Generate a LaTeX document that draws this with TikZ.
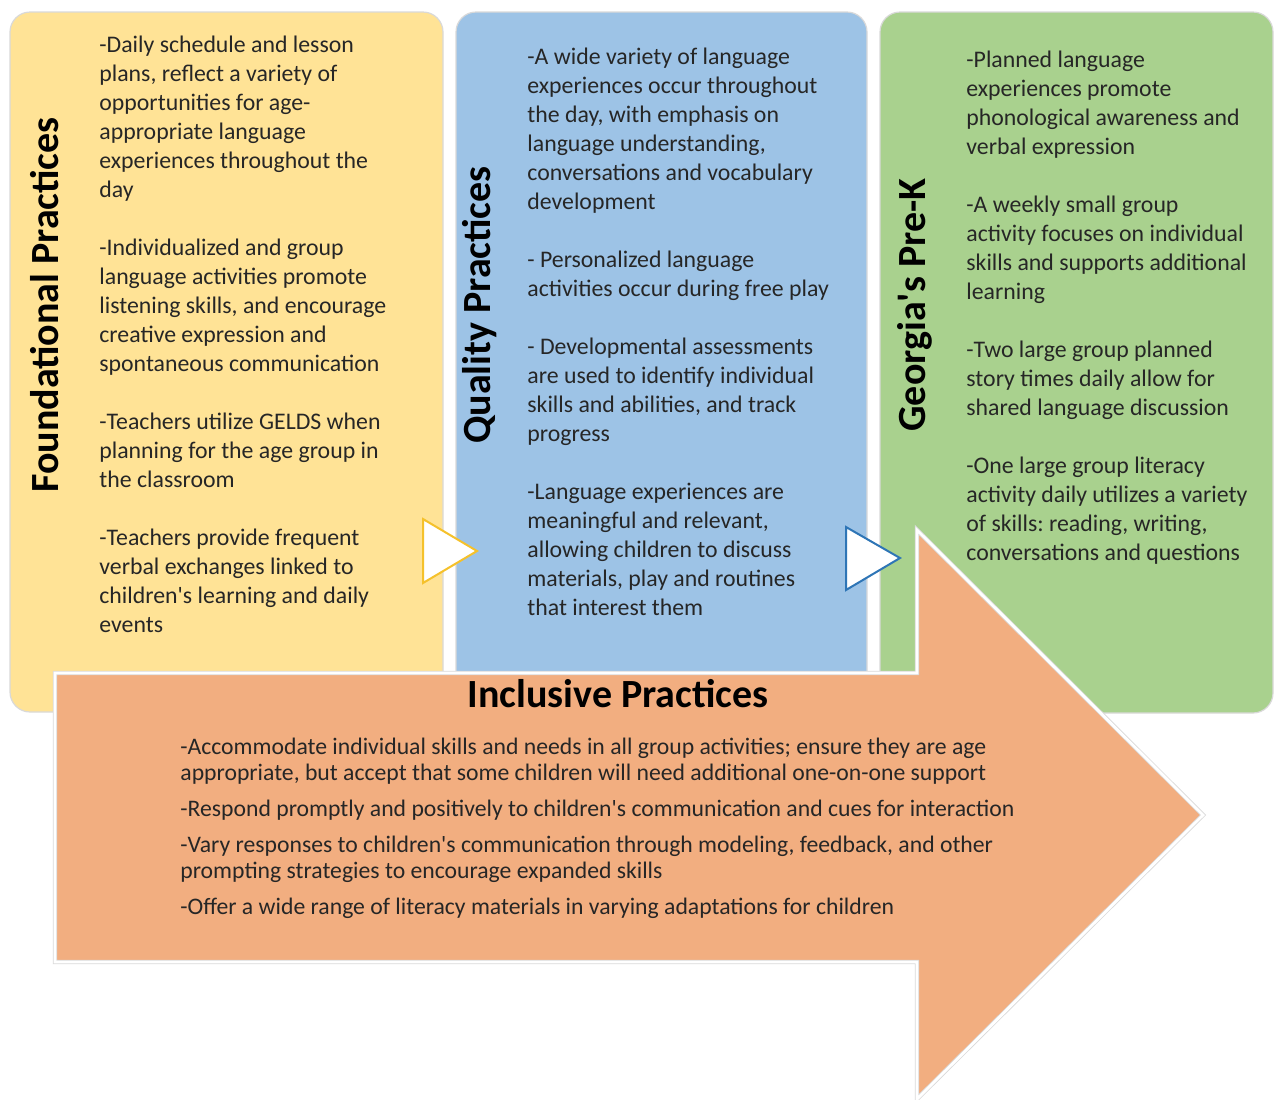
\documentclass[tikz,border=0pt]{standalone}
\usepackage{fontspec}
\setmainfont{Carlito}[Ligatures=TeXOff]
\frenchspacing
\definecolor{panelyellow}{HTML}{FFE396}
\definecolor{panelblue}{HTML}{9DC3E6}
\definecolor{panelgreen}{HTML}{A9D18E}
\definecolor{arroworange}{HTML}{F2AE80}
\definecolor{pointeryellow}{HTML}{F5C12B}
\definecolor{pointerblue}{HTML}{2E75B6}
\begin{document}
\begin{tikzpicture}[x=0.5pt, y=-0.5pt,
	panel/.style={draw=gray!30, line width=0.6pt, rounded corners=10pt},
	heading/.style={font=\fontsize{20}{24}\selectfont\bfseries, inner sep=0pt},
	body/.style={anchor=north west, inner sep=0pt, align=left, text=black!85, font=\fontsize{11.9}{14.5}\selectfont},
	pointer/.style={fill=white, line width=1pt, line join=miter}]
		\useasboundingbox (0,0) rectangle (1274,1099);
		% three panels
		\path[panel, fill=panelyellow] (10,12) rectangle (443,712);
		\path[panel, fill=panelblue] (456,12) rectangle (867,712);
		\path[panel, fill=panelgreen] (880,12) rectangle (1273,713);
		\node[heading, rotate=90] at (45,305) (found) {Foundational Practices};
		\node[heading, rotate=90] at (480,305) (qual) {Quality Practices};
		\node[heading, rotate=90] at (915,305) (georgia) {Georgia's Pre-K};
		\draw[pointer, draw=pointeryellow] (423,519) -- (477,551) -- (423,583) -- cycle;
		\draw[pointer, draw=pointerblue] (846,527) -- (900,558) -- (846,590) -- cycle;
		\node[body] at (99,36) (foundtext) {-Daily schedule and lesson\\ plans, reflect a variety of\\ opportunities for age-\\ appropriate language\\ experiences throughout the\\ day\\[14.5pt]
		-Individualized and group\\ language activities promote\\ listening skills, and encourage\\ creative expression and\\ spontaneous communication\\[14.5pt]
		-Teachers utilize GELDS when\\ planning for the age group in\\ the classroom\\[14.5pt]
		-Teachers provide frequent\\ verbal exchanges linked to\\ children's learning and daily\\ events};
		\node[body] at (527,48) (qualtext) {-A wide variety of language\\ experiences occur throughout\\ the day, with emphasis on\\ language understanding,\\ conversations and vocabulary\\ development\\[14.5pt]
		- Personalized language\\ activities occur during free play\\[14.5pt]
		- Developmental assessments\\ are used to identify individual\\ skills and abilities, and track\\ progress\\[14.5pt]
		-Language experiences are\\ meaningful and relevant,\\ allowing children to discuss\\ materials, play and routines\\ that interest them};
		\node[body] at (966,51) (georgiatext) {-Planned language\\ experiences promote\\ phonological awareness and\\ verbal expression\\[14.5pt]
		-A weekly small group\\ activity focuses on individual\\ skills and supports additional\\ learning\\[14.5pt]
		-Two large group planned\\ story times daily allow for\\ shared language discussion\\[14.5pt]
		-One large group literacy\\ activity daily utilizes a variety\\ of skills: reading, writing,\\ conversations and questions};
		% the big arrow
		\draw[fill=arroworange, draw=gray!30, double=white, double distance=1.4pt, line join=miter]
		(55,673) -- (917,673) -- (917,530) -- (1203,815) -- (917,1099) -- (917,962) -- (55,962) -- cycle;
		\node[heading] at (618,694) (incl) {Inclusive Practices};
		\node[body, font=\fontsize{11.85}{13}\selectfont] at (180,738) (incltext) {-Accommodate individual skills and needs in all group activities; ensure they are age\\ appropriate, but accept that some children will need additional one-on-one support\\[5pt]
		-Respond promptly and positively to children's communication and cues for interaction\\[5pt]
		-Vary responses to children's communication through modeling, feedback, and other\\ prompting strategies to encourage expanded skills\\[5pt]
		-Offer a wide range of literacy materials in varying adaptations for children};
	\end{tikzpicture}
\end{document}
